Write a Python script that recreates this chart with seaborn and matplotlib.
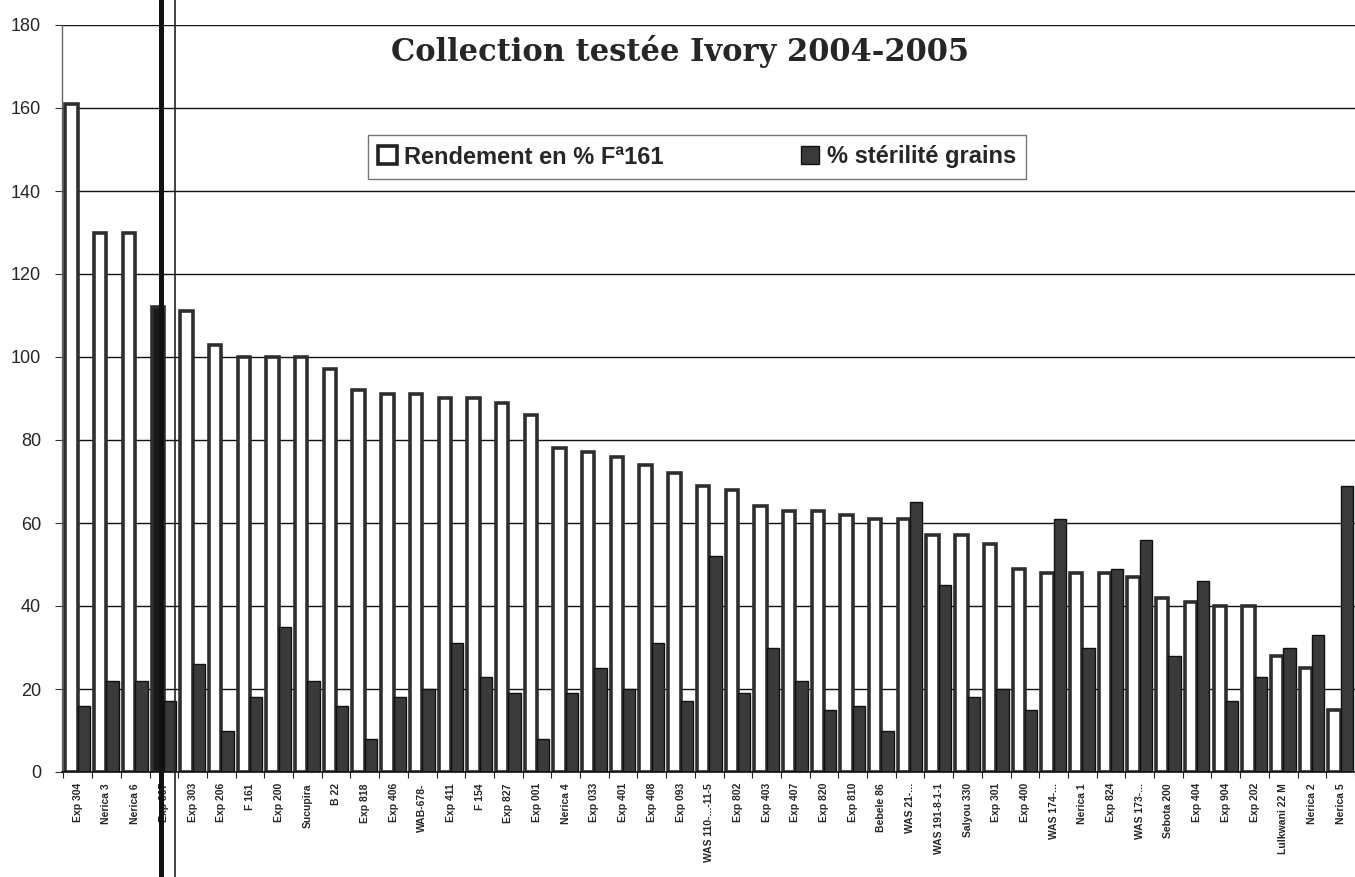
import matplotlib
matplotlib.use("Agg")
import matplotlib.pyplot as plt
import matplotlib.patches as mpatches
from matplotlib.lines import Line2D
import seaborn as sns
import pandas as pd
import numpy as np

categories = ["Exp 304", "Nerica 3", "Nerica 6", "Exp 307", "Exp 303", "Exp 206", "F 161",
              "Exp 200", "Sucupira", "B 22", "Exp 818", "Exp 406", "WAB-678-", "Exp 411",
              "F 154", "Exp 827", "Exp 001", "Nerica 4", "Exp 033", "Exp 401", "Exp 408",
              "Exp 093", "WAS 110-...-11-5", "Exp 802", "Exp 403", "Exp 407", "Exp 820",
              "Exp 810", "Bebele 86", "WAS 21-...", "WAS 191-8-1-1", "Salyou 330", "Exp 301",
              "Exp 400", "WAS 174-...", "Nerica 1", "Exp 824", "WAS 173-...", "Sebota 200",
              "Exp 404", "Exp 904", "Exp 202", "Lulkwani 22 M", "Nerica 2", "Nerica 5"]
rendement = [161, 130, 130, 112, 111, 103, 100, 100, 100, 97, 92, 91, 91, 90, 90, 89, 86,
             78, 77, 76, 74, 72, 69, 68, 64, 63, 63, 62, 61, 61, 57, 57, 55, 49, 48, 48,
             48, 47, 42, 41, 40, 40, 28, 25, 15]
sterilite = [16, 22, 22, 17, 26, 10, 18, 35, 22, 16, 8, 18, 20, 31, 23, 19, 8, 19, 25, 20,
             31, 17, 52, 19, 30, 22, 15, 16, 10, 65, 45, 18, 20, 15, 61, 30, 49, 56, 28, 46,
             17, 23, 30, 33, 69]
series_names = ["Rendement en % F\u00aa161", "% st\u00e9rilit\u00e9 grains"]
yticks = [0, 20, 40, 60, 80, 100, 120, 140, 160, 180]
title = "Collection test\u00e9e Ivory 2004-2005"

df = pd.DataFrame({
    "variete": categories * 2,
    "valeur": rendement + sterilite,
    "serie": [series_names[0]] * len(categories) + [series_names[1]] * len(categories),
})

sns.set_theme(style="white")
plt.rcParams["font.family"] = ["Liberation Sans", "DejaVu Sans"]

W, H = 1355, 877
fig = plt.figure(figsize=(W / 100, H / 100), dpi=100)
ax = fig.add_axes([62 / W, 1 - 772 / H, 1 - 62 / W, (772 - 25) / H])

sns.barplot(data=df, x="variete", y="valeur", hue="serie", order=categories,
            hue_order=series_names, palette=["white", "#3a3a3a"], width=0.86,
            saturation=1, legend=False, ax=ax)

n = len(categories)
for i, p in enumerate(ax.patches):
    if i < n:
        p.set_edgecolor("#2e2e2e")
        p.set_linewidth(2.6)
    elif i < 2 * n:
        p.set_edgecolor("#111111")
        p.set_linewidth(1.0)
# scan artefact: the Exp 307 yield bar appears filled dark in the scan
ax.patches[3].set_facecolor("#1a1a1a")

ax.set_ylim(0, 180)
ax.set_xlim(-0.55, n - 1 + 0.19)
ax.set_yticks(yticks)
ax.set_yticklabels([str(v) for v in yticks], fontsize=13)
ax.yaxis.grid(True, color="#111111", linewidth=1.0)
ax.set_axisbelow(True)
ax.set_xlabel("")
ax.set_ylabel("")

ax.set_xticks(range(n))
ax.set_xticklabels(categories, rotation=90, fontsize=7.5, fontweight="bold",
                   va="top", ha="center")
ax.set_xticks(np.arange(-0.5, n, 1.0), minor=True)
ax.tick_params(axis="x", which="major", length=0, pad=8)
ax.tick_params(axis="x", which="minor", length=4, width=0.8, color="#222222",
               direction="out", bottom=True)
ax.tick_params(axis="y", length=5, width=0.8, color="#333333", direction="out",
               left=True, pad=10)

for s in ["top", "right"]:
    ax.spines[s].set_visible(False)
ax.spines["left"].set_color("#666666")
ax.spines["left"].set_linewidth(1.0)
ax.spines["bottom"].set_color("#111111")
ax.spines["bottom"].set_linewidth(1.2)

# vertical scan artefact lines crossing the page
fig.add_artist(Line2D([161 / W, 161 / W], [0, 1], transform=fig.transFigure,
                      color="#111111", linewidth=3.6))
fig.add_artist(Line2D([175 / W, 175 / W], [0, 1], transform=fig.transFigure,
                      color="#222222", linewidth=1.2))

fig.text(680 / W, 1 - 51 / H, title, ha="center", va="center", fontsize=22,
         fontweight="bold", family=["DejaVu Serif"])

handles = [
    mpatches.Patch(facecolor="white", edgecolor="#222222", linewidth=2.6),
    mpatches.Patch(facecolor="#3a3a3a", edgecolor="#111111", linewidth=1.0),
]
leg = fig.legend(handles, series_names, loc="center",
                 bbox_to_anchor=(697 / W, 1 - 157 / H),
                 ncol=2, fontsize=17, frameon=True, fancybox=False,
                 edgecolor="#555555", handlelength=0.8, handleheight=0.8,
                 handletextpad=0.3, columnspacing=5.8, borderpad=0.45)
leg.get_frame().set_linewidth(1.0)
for t in leg.get_texts():
    t.set_fontweight("bold")

fig.savefig("out.png", dpi=100)
